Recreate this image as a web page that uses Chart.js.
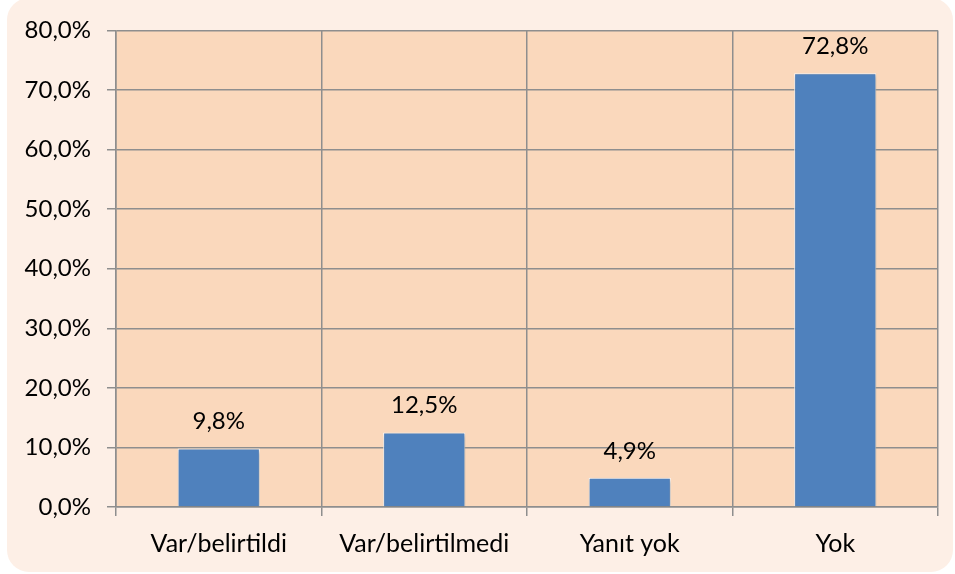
<!DOCTYPE html>
<html><head><meta charset="utf-8">
<script src="https://cdn.jsdelivr.net/npm/chart.js@4/dist/chart.umd.min.js"></script>
<style>html,body{margin:0;padding:0;background:#fff}canvas{display:block}</style>
</head><body>
<canvas id="c" width="955" height="574"></canvas>
<script>
const categories = ["Var/belirtildi", "Var/belirtilmedi", "Yanıt yok", "Yok"];
const values = [9.8, 12.5, 4.9, 72.8];
const yTicks = [0, 10, 20, 30, 40, 50, 60, 70, 80];

const FONT = "Lato";
const fmt = v => v.toFixed(1).replace('.', ',') + '%';

const bgPlugin = {
  id: 'bg',
  beforeDraw(chart) {
    const ctx = chart.ctx, a = chart.chartArea;
    ctx.save();
    ctx.fillStyle = '#ffffff';
    ctx.fillRect(0, 0, chart.width, chart.height);
    ctx.fillStyle = '#FDEFE6';
    ctx.beginPath();
    ctx.roundRect(7, -2, 946, 574, 22);
    ctx.fill();
    ctx.fillStyle = '#FAD8BC';
    ctx.fillRect(a.left, a.top, a.right - a.left, a.bottom - a.top);
    ctx.restore();
  }
};
const shadowPlugin = {
  id: 'shadow',
  beforeDatasetsDraw(chart) {
    const ctx = chart.ctx;
    ctx.save();
    ctx.shadowColor = 'rgba(0,0,0,0.3)';
    ctx.shadowBlur = 4;
    ctx.shadowOffsetX = 1;
    ctx.shadowOffsetY = 2;
  },
  afterDatasetsDraw(chart) { chart.ctx.restore(); }
};
const labelPlugin = {
  id: 'labels',
  afterDatasetsDraw(chart) {
    const ctx = chart.ctx;
    const meta = chart.getDatasetMeta(0);
    ctx.save();
    ctx.font = '24px ' + FONT;
    ctx.fillStyle = '#000';
    ctx.textAlign = 'center';
    ctx.textBaseline = 'middle';
    meta.data.forEach((bar, i) => {
      ctx.fillText(fmt(values[i]), bar.x, bar.y - 27);
    });
    ctx.restore();
  }
};

new Chart(document.getElementById('c'), {
  type: 'bar',
  data: {
    labels: categories,
    datasets: [{
      data: values,
      backgroundColor: '#4F81BD',
      borderColor: '#ffffff',
      borderWidth: 1,
      barPercentage: 0.4,
      categoryPercentage: 1
    }]
  },
  options: {
    responsive: false,
    animation: false,
    layout: { padding: { left: 0, top: 28, right: 17, bottom: 0 } },
    plugins: { legend: { display: false }, tooltip: { enabled: false } },
    scales: {
      x: {
        offset: true,
        grid: { offset: true, color: '#8E8E8E', lineWidth: 1.5, tickLength: 9, drawOnChartArea: true },
        border: { color: '#8E8E8E', width: 1.5 },
        ticks: { color: '#000', font: { family: FONT, size: 25 }, padding: 13, maxRotation: 0 },
        afterFit(s) { s.height = 67; }
      },
      y: {
        min: 0, max: 80,
        afterBuildTicks(s) { s.ticks = yTicks.map(v => ({ value: v })); },
        grid: { color: '#8E8E8E', lineWidth: 1.5, tickLength: 9 },
        border: { color: '#8E8E8E', width: 1.5 },
        ticks: { color: '#000', font: { family: FONT, size: 24 }, padding: 16, callback: v => fmt(v) },
        afterFit(s) { s.width = 116; }
      }
    }
  },
  plugins: [bgPlugin, shadowPlugin, labelPlugin]
});
</script>
</body></html>
